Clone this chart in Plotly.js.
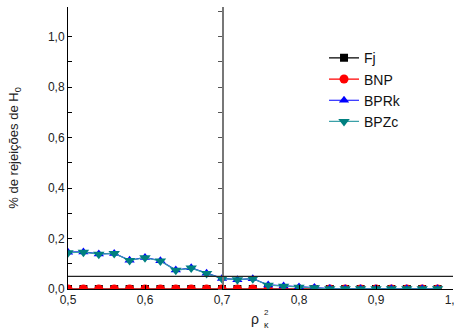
<!DOCTYPE html>
<html><head><meta charset="utf-8">
<script src="https://cdn.plot.ly/plotly-3.0.1.min.js"></script>
<style>html,body{margin:0;padding:0;background:#fff}#c{width:454px;height:329px}</style>
</head><body><div id="c"></div>
<script>
const rho = [0.50,0.52,0.54,0.56,0.58,0.60,0.62,0.64,0.66,0.68,0.70,0.72,0.74,0.76,0.78,0.80,0.82,0.84,0.86,0.88,0.90,0.92,0.94,0.96,0.98];
const fj   = [0,0,0,0,0,0,0,0,0,0,0,0,0,0,0,0,0,0,0,0,0,0,0,0,0];
const bnp  = [0,0,0,0,0,0,0,0,0,0,0,0,0,0,0,0,0,0,0,0,0,0,0,0,0];
const bprk = [0.146,0.147,0.139,0.141,0.114,0.125,0.112,0.075,0.084,0.062,0.042,0.037,0.041,0.016,0.012,0.008,0.006,0.002,0.001,0.001,0.001,0.001,0.001,0.001,0.001];
const bpzc = [0.144,0.146,0.138,0.141,0.113,0.124,0.111,0.074,0.083,0.061,0.041,0.037,0.041,0.015,0.011,0.007,0.005,0.001,0.001,0.001,0.001,0.001,0.001,0.001,0.001];
const xTicks = [0.5,0.6,0.7,0.8,0.9,1.0];
const yTicks = [0,0.1,0.2,0.3,0.4,0.5,0.6,0.7,0.8,0.9,1.0];
const yTickText = ['0,0','','0,2','','0,4','','0,6','','0,8','','1,0'];
const refAlpha = 0.05;
const refRho = 0.7;

const traces = [
 {x:rho,y:fj,name:'Fj',mode:'lines+markers',line:{color:'#000',width:1.2},marker:{symbol:'square',size:8,color:'#000'}},
 {x:rho,y:bnp,name:'BNP',mode:'lines+markers',line:{color:'#ff0000',width:1.2},marker:{symbol:'circle',size:9,color:'#ff0000'}},
 {x:rho,y:bprk,name:'BPRk',mode:'lines+markers',line:{color:'#0000ff',width:1.2},marker:{symbol:'triangle-up',size:9,color:'#0000ff'}},
 {x:rho,y:bpzc,name:'BPZc',mode:'lines+markers',line:{color:'#3aa0a8',width:1.2},marker:{symbol:'triangle-down',size:10,color:'#008080'}}
];
const layout = {
 width:454,height:329,
 margin:{l:68,r:1,t:7,b:40},
 paper_bgcolor:'#fff',plot_bgcolor:'#fff',
 separators:',.',
 font:{family:'Liberation Sans, Arial, sans-serif',size:12,color:'#222'},
 showlegend:true,
 legend:{x:0.665,y:0.875,xanchor:'left',yanchor:'top',bgcolor:'rgba(0,0,0,0)',font:{size:14,color:'#111'},tracegroupgap:0,itemwidth:30},
 xaxis:{range:[0.5,1.0],tickvals:xTicks,tickformat:'.1f',ticks:'inside',ticklen:4,tickcolor:'#000',ticklabeloverflow:'allow',
   showline:true,linecolor:'#000',linewidth:1,showgrid:false,zeroline:false,mirror:false},
 yaxis:{range:[0,1.118],tickvals:yTicks,ticktext:yTickText,
   ticks:'inside',ticklen:4,tickcolor:'#000',showline:true,linecolor:'#000',linewidth:1,showgrid:false,zeroline:false,
   title:{text:'% de rejeições de H<sub>0</sub>',font:{size:13},standoff:26}},
 yaxis2:{overlaying:'y',anchor:'free',position:0.4,side:'left',range:[0,1.118],dtick:0.1,ticks:'outside',ticklen:4,tickcolor:'#555',
   showticklabels:false,showline:true,linecolor:'#777',linewidth:1.5,showgrid:false,zeroline:false},
 shapes:[
  {type:'line',xref:'paper',x0:0,x1:1,yref:'y',y0:refAlpha,y1:refAlpha,line:{color:'#222',width:1.2}}
 ],
 annotations:[
  {text:'ρ',xref:'paper',yref:'paper',x:0.487,y:0,yshift:-30,xanchor:'center',yanchor:'middle',showarrow:false,font:{size:14,color:'#222'}},
  {text:'2',xref:'paper',yref:'paper',x:0.515,y:0,yshift:-23,xanchor:'center',yanchor:'middle',showarrow:false,font:{size:8,color:'#222'}},
  {text:'κ',xref:'paper',yref:'paper',x:0.515,y:0,yshift:-36,xanchor:'center',yanchor:'middle',showarrow:false,font:{size:9,color:'#222'}}
 ]
};
traces.push({x:[refRho],y:[null],yaxis:'y2',showlegend:false,hoverinfo:'skip',mode:'markers'});
Plotly.newPlot('c',traces,layout,{staticPlot:true});
</script></body></html>
